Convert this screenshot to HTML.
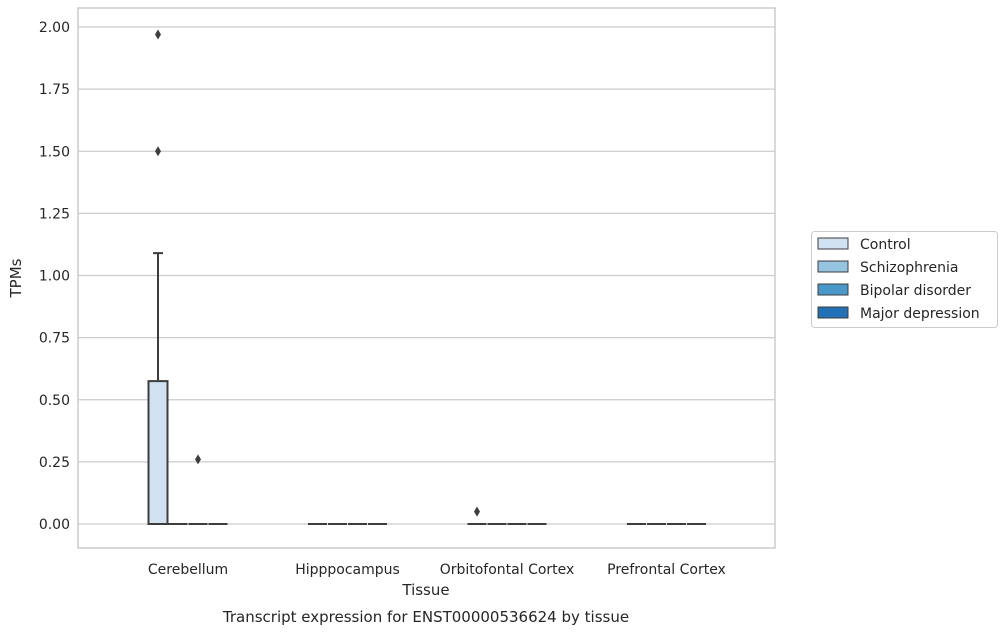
<!DOCTYPE html>
<html><head><meta charset="utf-8">
<style>
body{margin:0;background:#fff;font-family:"Liberation Sans","DejaVu Sans",sans-serif;}
svg text{font-family:"DejaVu Sans","Liberation Sans",sans-serif;fill:#262626;}
</style></head>
<body>
<svg id="chart" width="1007" height="634" xmlns="http://www.w3.org/2000/svg"></svg>
<script>
const categories = ["Cerebellum","Hipppocampus","Orbitofontal Cortex","Prefrontal Cortex"];
const hues = ["Control","Schizophrenia","Bipolar disorder","Major depression"];
const hueColors = ["#d0e1f2","#94c4df","#4a98c9","#2270b5"];
// per category, per hue: [whiskerLow, q1, median, q3, whiskerHigh]
const boxStats = [
  [[0,0,0,0.575,1.09],[0,0,0,0,0],[0,0,0,0,0],[0,0,0,0,0]],
  [[0,0,0,0,0],[0,0,0,0,0],[0,0,0,0,0],[0,0,0,0,0]],
  [[0,0,0,0,0],[0,0,0,0,0],[0,0,0,0,0],[0,0,0,0,0]],
  [[0,0,0,0,0],[0,0,0,0,0],[0,0,0,0,0],[0,0,0,0,0]]
];
// outliers: [categoryIndex, hueIndex, value]
const outliers = [[0,0,1.97],[0,0,1.50],[0,2,0.26],[2,0,0.05]];
const yTicks = [0,0.25,0.5,0.75,1.0,1.25,1.5,1.75,2.0];

const svg = document.getElementById('chart');
const NS = "http://www.w3.org/2000/svg";
function mk(tag, attrs, parent){const e=document.createElementNS(NS,tag);for(const k in attrs)e.setAttribute(k,attrs[k]);(parent||svg).appendChild(e);return e;}
const L=78,R=775,T=8,B=548;
const y = v => 524 - v*248.5;
const catX = i => 188 + i*159.5;
const hueW = 20;
const hueX = (i,h) => catX(i) + (h-1.5)*hueW;

// gridlines
yTicks.forEach(t=>{
  const g=mk('line',{x1:L,x2:R,y1:y(t),y2:y(t),stroke:'#cccccc','stroke-width':1.2});
  
  
  const tx=mk('text',{x:L-8,y:y(t)+5,'text-anchor':'end','font-size':14});
  tx.textContent=t.toFixed(2);
  
  
});
const frame=mk('rect',{x:L,y:T,width:R-L,height:B-T,fill:'none',stroke:'#cccccc','stroke-width':1.5});



categories.forEach((c,i)=>{
  const tx=mk('text',{x:catX(i),y:574,'text-anchor':'middle','font-size':14});
  tx.textContent=c;
  
  
  boxStats[i].forEach((s,h)=>{
    const cx=hueX(i,h), x0=cx-hueW/2+0.5, x1=cx+hueW/2-0.5;
    const g=mk('g',{});
    
    
    if(s[4]>s[3]){
      mk('line',{x1:cx,x2:cx,y1:y(s[3]),y2:y(s[4]),stroke:'#3d3d3d','stroke-width':2},g);
      mk('line',{x1:cx-5,x2:cx+5,y1:y(s[4]),y2:y(s[4]),stroke:'#3d3d3d','stroke-width':2},g);
    }
    if(s[1]<s[0]){
      mk('line',{x1:cx,x2:cx,y1:y(s[1]),y2:y(s[0]),stroke:'#3d3d3d','stroke-width':2},g);
    }
    mk('rect',{x:x0,y:y(s[3]),width:x1-x0,height:Math.max(0,y(s[1])-y(s[3])),fill:hueColors[h],stroke:'#3d3d3d','stroke-width':2},g);
    mk('line',{x1:x0,x2:x1,y1:y(s[2]),y2:y(s[2]),stroke:'#3d3d3d','stroke-width':2},g);
  });
});
outliers.forEach(o=>{
  const cx=hueX(o[0],o[1]), cy=y(o[2]);
  const p=mk('polygon',{points:`${cx},${cy-5} ${cx+3},${cy} ${cx},${cy+5} ${cx-3},${cy}`,fill:'#3d3d3d'});
  
  
});

let t=mk('text',{x:426,y:595,'text-anchor':'middle','font-size':15});t.textContent='Tissue';


t=mk('text',{x:21,y:278,'text-anchor':'middle','font-size':15,transform:'rotate(-90 21 278)'});t.textContent='TPMs';


t=mk('text',{x:426,y:622,'text-anchor':'middle','font-size':15});t.textContent='Transcript expression for ENST00000536624 by tissue';



const lg=mk('g',{});


mk('rect',{x:811.5,y:231.5,width:186,height:96,rx:3,fill:'#fff',stroke:'#cccccc'},lg);
hues.forEach((h,k)=>{
  const yy=244+k*23;
  const r=mk('rect',{x:818,y:yy-6,width:30,height:11,fill:hueColors[k],stroke:'#3d3d3d','stroke-width':1},lg);
  
  
  const tx=mk('text',{x:860,y:yy+5,'font-size':14},lg);tx.textContent=h;
  
  
});
</script>
</body></html>
